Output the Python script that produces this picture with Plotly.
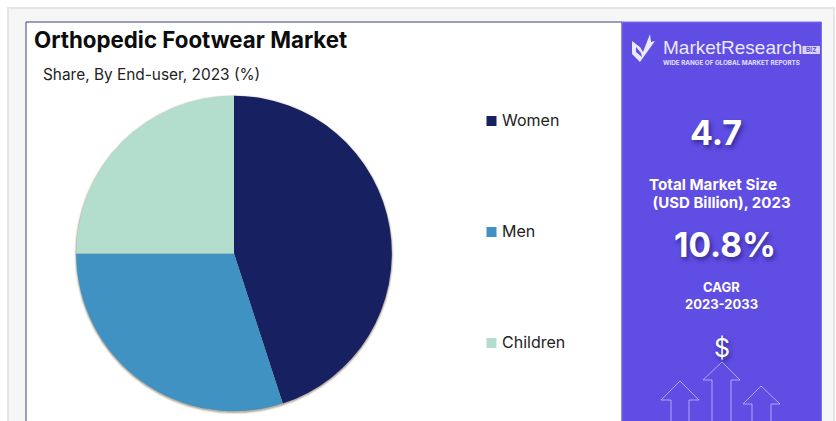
import plotly.graph_objects as go

WIDTH, HEIGHT = 836, 421

# Market share by end-user, 2023 (%)
segments = ["Women", "Men", "Children"]
shares = [45, 30, 25]
colors = ["#172162", "#3f92c2", "#b3dece"]

title = "Orthopedic Footwear Market"
subtitle = "Share, By End-user, 2023 (%)"
market_size = "4.7"
market_label = ["Total Market Size", " (USD Billion), 2023"]
cagr = "10.8%"
cagr_label = ["CAGR", "2023-2033"]

PURPLE = "#5f4de4"
BODY_FONT = "Inter"
HEAD_SHADOW = "2px 3px 4px rgba(20,15,90,0.55)"

fig = go.Figure()

# Pie placed on a pixel box, first slice starting at twelve o'clock
cx, cy, r = 234, 253.5, 157.8
fig.add_trace(go.Pie(
    labels=segments, values=shares, sort=False, direction="clockwise", rotation=0,
    marker=dict(colors=colors, line=dict(width=0)),
    textinfo="none", hoverinfo="label+percent", showlegend=False,
    domain=dict(x=[(cx - r) / WIDTH, (cx + r) / WIDTH],
                y=[1 - (cy + r) / HEIGHT, 1 - (cy - r) / HEIGHT]),
))
# Invisible trace that gives the pixel-based x/y axes something to attach to
fig.add_trace(go.Scatter(x=[0], y=[0], mode="markers", marker=dict(opacity=0),
                         showlegend=False, hoverinfo="skip"))

shapes = []


def rect(x0, y0, x1, y1, fill, line=None, width=0):
    shapes.append(dict(type="rect", xref="x", yref="y", x0=x0, y0=y0, x1=x1, y1=y1,
                       fillcolor=fill, line=dict(color=line or fill, width=width),
                       layer="below"))


def path(points, fill=None, line=None, width=1, closed=True):
    d = "M" + " L".join(f"{x},{y}" for x, y in points) + (" Z" if closed else "")
    shapes.append(dict(type="path", xref="x", yref="y", path=d,
                       fillcolor=fill or "rgba(0,0,0,0)",
                       line=dict(color=line or "rgba(0,0,0,0)", width=width),
                       layer="above"))


# Page frame, white card and side panel
rect(8, 8, 834, 430, "#f6f6f6", "#e4e4e4", 2)
rect(26, 22, 622, 430, "#ffffff", "#3d4180", 1)
rect(622, 22, 821.5, 430, PURPLE, "#7e70ee", 1)

# Soft shadow under the pie
for grow, alpha in ((2.0, 0.10), (1.2, 0.18), (0.5, 0.28)):
    shapes.append(dict(type="circle", xref="x", yref="y", layer="below",
                       x0=cx - r - grow, x1=cx + r + grow,
                       y0=cy - r - grow + 1, y1=cy + r + grow + 1,
                       fillcolor=f"rgba(120,95,70,{alpha})", line=dict(width=0)))

# Logo check mark
path([(632, 41), (640, 47), (643, 52), (650, 34), (651, 42), (655, 41),
      (640, 62), (632, 54)], fill="#ece9fd")
path([(636, 47), (641, 53), (642, 57), (636, 52)], fill=PURPLE)

# BIZ badge
rect(802.5, 46, 820, 54, "#d9d5f8")

# Growth arrows in the side panel
arrow_line = "rgba(205,198,248,0.75)"
path([(722, 362), (703, 380), (712, 380), (712, 421)], line=arrow_line, closed=False)
path([(722, 362), (740, 380), (731, 380), (731, 421)], line=arrow_line, closed=False)
path([(680, 381), (661, 400), (671, 400), (671, 421)], line=arrow_line, closed=False)
path([(680, 381), (699, 400), (689, 400), (689, 421)], line=arrow_line, closed=False)
path([(761, 386), (743, 404), (752, 404), (752, 421)], line=arrow_line, closed=False)
path([(761, 386), (780, 404), (771, 404), (771, 421)], line=arrow_line, closed=False)

annotations = []


def label(x, y, text, size, color="#111111", anchor="left", family=BODY_FONT,
          weight="normal", shadow=None, pad=1):
    font = dict(size=size, color=color, family=family, weight=weight)
    if shadow:
        font["shadow"] = shadow
    annotations.append(dict(xref="x", yref="y", x=x, y=y, text=text, showarrow=False,
                            xanchor=anchor, yanchor="middle", font=font,
                            borderpad=pad, borderwidth=0))


label(33, 39, title, 22.3, weight="bold", color="#0c0c0c")
label(42, 74.5, subtitle, 15.4, color="#222222")

# Legend rows
legend_rows = [120.5, 231.5, 342.5]
for name, color, y in zip(segments, colors, legend_rows):
    rect(486.5, y - 4.5, 496.5, y + 5.5, color)
    label(501, y - 0.5, name, 16, color="#222222")

# Side panel text
white = "#ffffff"
label(662.5, 47.5, "MarketResearch", 19, color="#ece9fd", family="Liberation Sans", pad=0)
label(811.2, 50, "BIZ", 6.5, color=PURPLE, anchor="center", weight="bold", pad=0)
label(663, 62.5, "WIDE RANGE OF GLOBAL MARKET REPORTS", 6.3, color="#e4e1fb",
      weight="bold", pad=0)
label(716, 132, market_size, 34, white, "center", weight="bold", shadow=HEAD_SHADOW)
label(713, 184, market_label[0], 15.2, white, "center", weight="bold")
label(719.5, 202, market_label[1], 15, white, "center", weight="bold")
label(725, 245, cagr, 33.5, white, "center", weight="bold", shadow=HEAD_SHADOW)
label(721, 287, cagr_label[0], 13, white, "center", weight="bold")
label(721, 304, cagr_label[1], 13, white, "center", weight="bold")
label(722, 348, "$", 25, white, "center", shadow=HEAD_SHADOW)

hidden = dict(visible=False, fixedrange=True)
fig.update_layout(
    width=WIDTH, height=HEIGHT, margin=dict(l=0, r=0, t=0, b=0),
    paper_bgcolor="#ffffff", plot_bgcolor="rgba(0,0,0,0)", showlegend=False,
    xaxis=dict(range=[0, WIDTH], **hidden),
    yaxis=dict(range=[HEIGHT, 0], **hidden),
    shapes=shapes, annotations=annotations,
)
fig.write_html("out.html", config=dict(displayModeBar=False))
